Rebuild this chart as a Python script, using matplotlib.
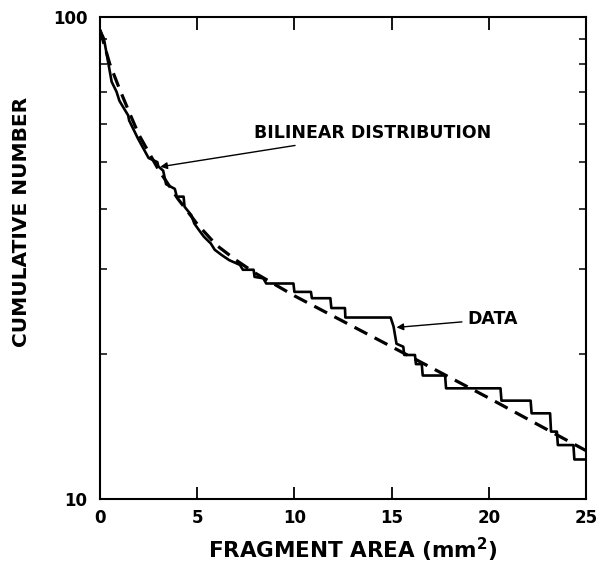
import numpy as np
import matplotlib
matplotlib.use("Agg")
import matplotlib.pyplot as plt
from matplotlib.ticker import FixedLocator, NullFormatter

plt.rcParams['font.family'] = ['DejaVu Sans']
plt.rcParams['font.weight'] = 'bold'
plt.rcParams['mathtext.default'] = 'bf'

# traced staircase of the measured data (area mm^2, cumulative number)
data_x = [0.0, 0.2, 0.6, 0.85, 1.0, 1.45, 1.5, 1.95, 2.5, 2.95, 3.0, 3.25, 3.4,
          3.85, 3.95, 4.3, 4.35, 4.7, 4.85, 5.1, 5.35, 5.7, 5.9, 6.25, 6.65,
          7.2, 7.35, 7.9, 7.95, 8.4, 8.55, 9.95, 10.0, 10.85, 10.9, 11.85,
          11.9, 12.6, 12.62, 14.95, 15.1, 15.25, 15.6, 15.65, 16.2, 16.25,
          16.55, 16.6, 17.75, 17.8, 20.6, 20.65, 22.15, 22.2, 23.15, 23.2,
          23.5, 23.55, 24.35, 24.4, 25.0]
data_n = [94.0, 90.3, 73.4, 70.0, 67.0, 62.5, 61.0, 56.0, 51.0, 50.0, 49.0, 48.0,
          45.0, 44.0, 42.4, 42.4, 40.4, 38.8, 37.3, 36.1, 35.0, 33.9, 32.9,
          32.1, 31.3, 30.6, 29.9, 29.9, 28.9, 28.7, 28.0, 28.0, 26.9, 26.9,
          26.1, 26.1, 24.9, 24.9, 23.8, 23.8, 22.8, 21.0, 20.7, 19.9, 19.9,
          19.05, 19.05, 18.04, 18.04, 16.97, 16.97, 16.0, 16.0, 15.06, 15.06,
          13.8, 13.8, 12.94, 12.94, 12.08, 12.08]

# bilinear distribution curve
fit_x = [0, 0.5, 1, 1.5, 2, 3, 4, 5, 6, 7, 8, 10, 15, 20, 25]
fit_n = [94, 80, 71, 63.5, 57, 48.3, 42.0, 37.2, 33.6, 31.3, 29.4, 26.4, 20.7, 16.2, 12.6]

fig = plt.figure(figsize=(5.98, 5.64), dpi=100)
ax = fig.add_axes([0.1672, 0.1152, 0.8128, 0.8546])

ax.plot(fit_x, fit_n, color='black', lw=2.3, dashes=(4.5, 2.6), solid_capstyle='butt')
ax.plot(data_x, data_n, color='black', lw=1.9)

ax.set_yscale('log')
ax.set_xlim(0, 25)
ax.set_ylim(10, 100)

ax.set_xticks([0, 5, 10, 15, 20, 25])
ax.yaxis.set_major_locator(FixedLocator([10, 100]))
ax.yaxis.set_minor_locator(FixedLocator([20, 30, 40, 50, 60, 70, 80, 90]))
ax.yaxis.set_minor_formatter(NullFormatter())
ax.set_yticklabels(['10', '100'])

ax.tick_params(which='major', direction='in', length=9, width=1.3,
               top=True, right=True, labelsize=12)
ax.tick_params(axis='x', pad=7)
ax.tick_params(axis='y', pad=9)
ax.tick_params(which='minor', direction='in', length=5, width=1.1,
               left=True, right=True)
for lab in ax.get_xticklabels() + ax.get_yticklabels():
    lab.set_fontweight('bold')

for s in ax.spines.values():
    s.set_linewidth(1.5)

ax.set_xlabel('FRAGMENT AREA (mm$^2$)', fontsize=15.5, fontweight='bold', va='center')
ax.xaxis.set_label_coords(0.52, -0.106)
ax.set_ylabel('CUMULATIVE NUMBER', fontsize=14.5, fontweight='bold', va='center')
ax.yaxis.set_label_coords(-0.161, 0.575)

ax.annotate('BILINEAR DISTRIBUTION', xy=(3.1, 48.9), xytext=(7.9, 57.4),
            fontsize=12.5, fontweight='bold', va='center', ha='left',
            arrowprops=dict(arrowstyle='-|>', color='black', lw=1.0,
                            mutation_scale=10, shrinkA=2, shrinkB=0))
ax.annotate('DATA', xy=(15.25, 22.7), xytext=(18.9, 23.6),
            fontsize=12.5, fontweight='bold', va='center', ha='left',
            arrowprops=dict(arrowstyle='-|>', color='black', lw=1.0,
                            mutation_scale=10, shrinkA=2, shrinkB=0))

fig.savefig('out.png', dpi=100)
